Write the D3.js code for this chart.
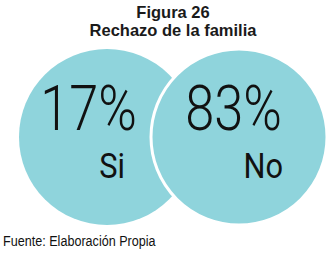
<!DOCTYPE html>
<html><head><meta charset="utf-8">
<script src="https://cdn.jsdelivr.net/npm/d3@7"></script>
<style>body{margin:0;background:#fff}svg{display:block}</style>
</head><body>
<script>
const categories = ["Si", "No"];
const values = [17, 83];
const titleLines = ["Figura 26", "Rechazo de la familia"];
const source = "Fuente: Elaboración Propia";

const W = 335, H = 254;
const svg = d3.select("body").append("svg").attr("width", W).attr("height", H);

const x = d3.scalePoint().domain(categories).range([107, 239]);
const cy = 137, r = 88;

svg.selectAll("text.title").data(titleLines).join("text")
  .attr("class", "title")
  .attr("x", 173).attr("y", (d, i) => 18 + i * 18)
  .attr("text-anchor", "middle")
  .attr("font-family", "Liberation Sans, Arial, sans-serif")
  .attr("font-weight", "bold").attr("font-size", 16.5)
  .attr("fill", "#1a1a1a").text(d => d);

const g = svg.selectAll("g.c").data(categories).join("g").attr("class", "c");
g.append("circle")
  .attr("cx", d => x(d)).attr("cy", cy).attr("r", r)
  .attr("fill", "#8fd4dc")
  .attr("stroke", (d, i) => i === 0 ? "none" : "#fff")
  .attr("stroke-width", 3);

const pctDx = [30, 43], labDx = [18, 44];
g.append("text")
  .attr("transform", (d, i) => `translate(${x(d) + pctDx[i]},130) scale(0.83,1)`)
  .attr("text-anchor", "end")
  .attr("font-family", "Roboto, sans-serif").attr("font-weight", 300)
  .attr("font-size", 63).attr("fill", "#111")
  .text((d, i) => values[i] + "%");
g.append("text")
  .attr("transform", (d, i) => `translate(${x(d) + labDx[i]},178) scale(0.88,1)`)
  .attr("text-anchor", "end")
  .attr("font-family", "Roboto, sans-serif").attr("font-weight", 400)
  .attr("font-size", 35).attr("fill", "#111")
  .text(d => d);

svg.append("text").attr("transform", "translate(3,246) scale(0.84,1)")
  .attr("font-family", "Liberation Sans, Arial, sans-serif")
  .attr("font-size", 15).attr("fill", "#111").text(source);
</script>
</body></html>
